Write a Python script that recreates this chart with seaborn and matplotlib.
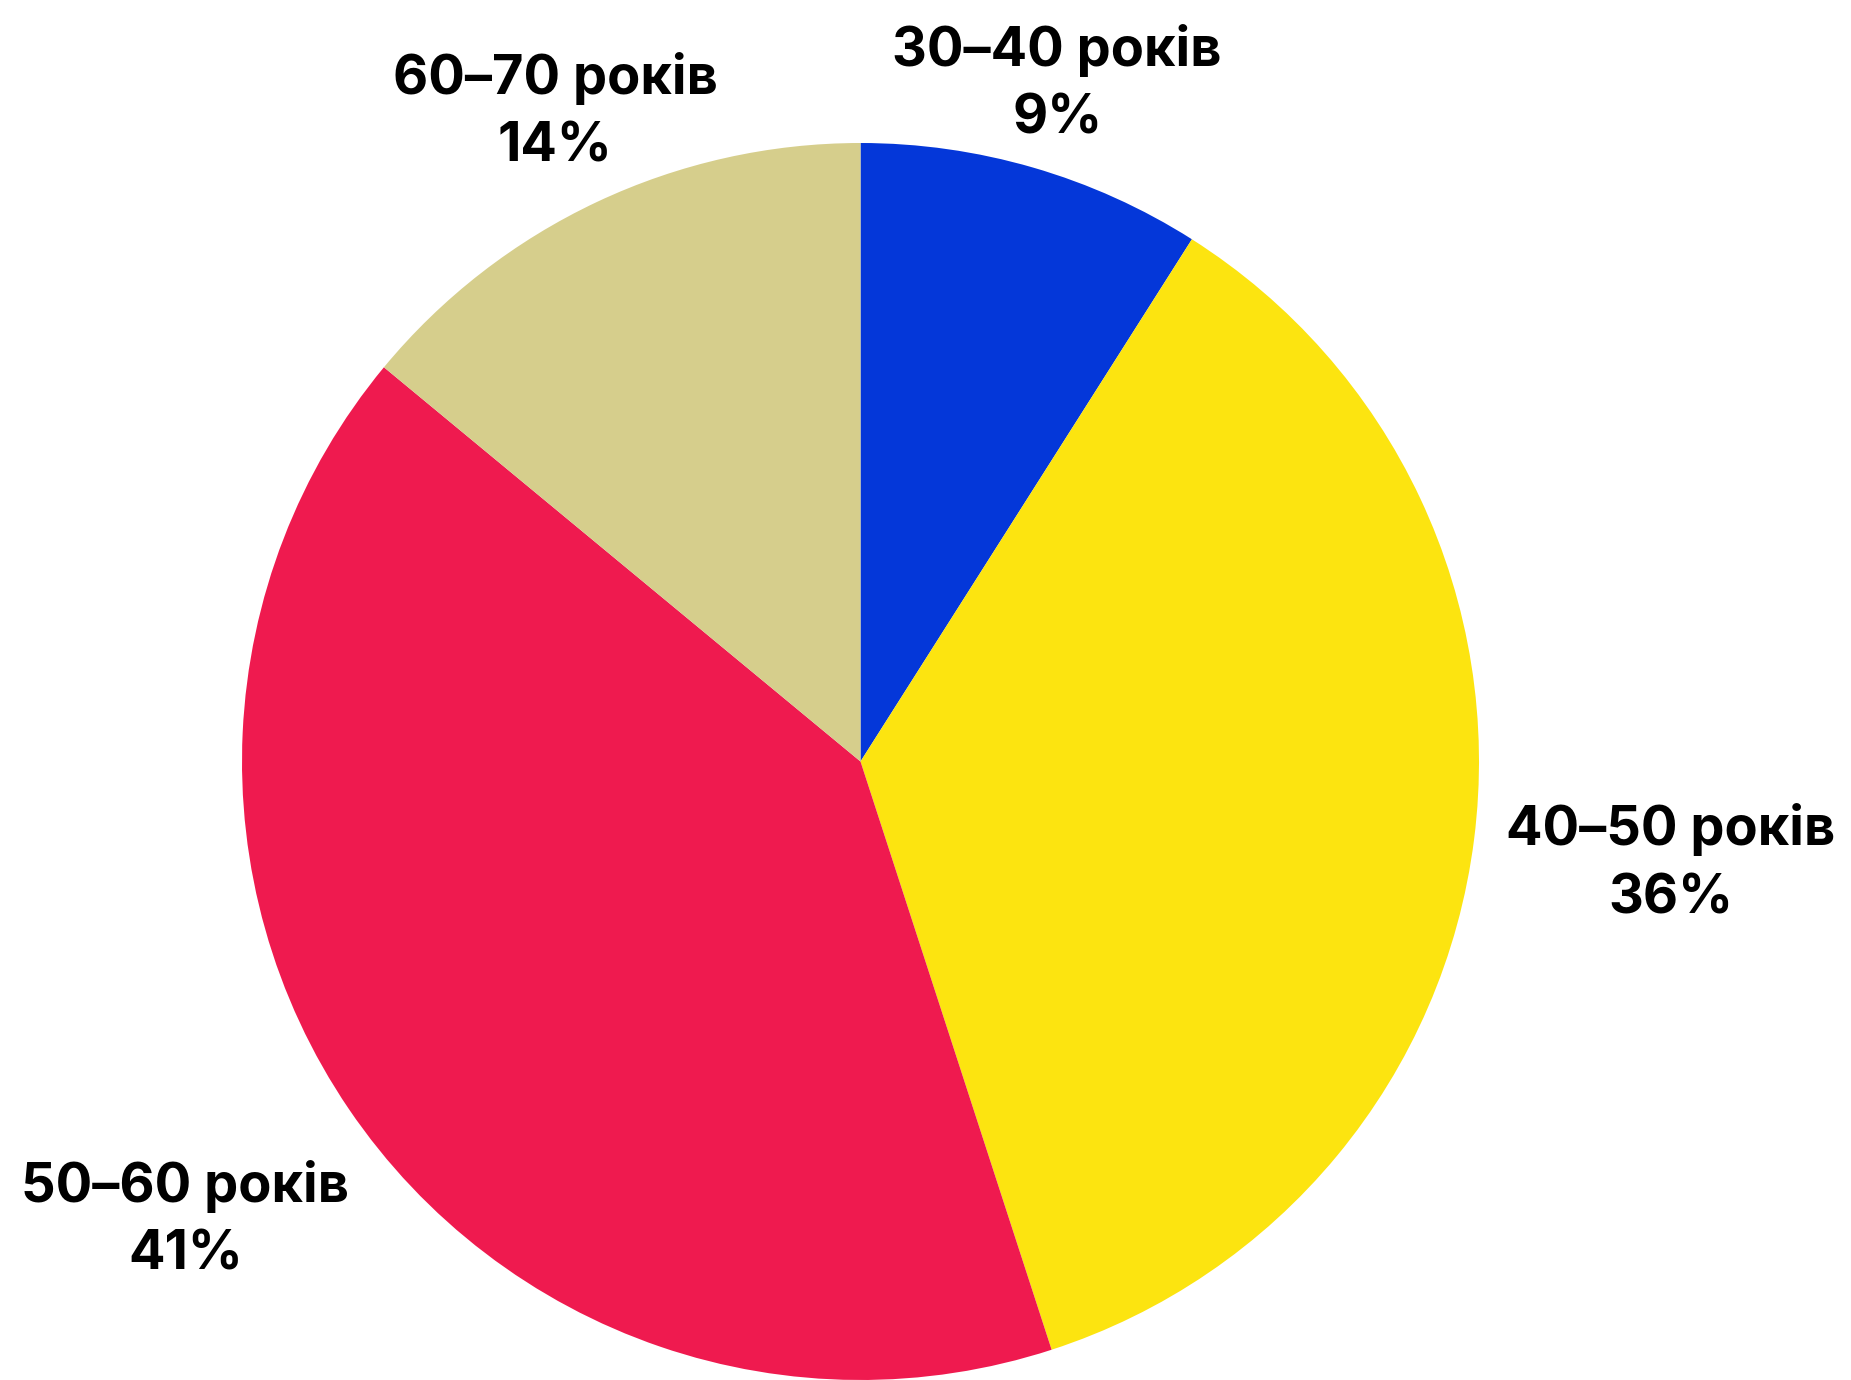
import numpy as np
import matplotlib
matplotlib.use("Agg")
import matplotlib.pyplot as plt
import seaborn as sns

# age groups and their shares (%)
age_groups = ["30–40 років", "40–50 років", "50–60 років", "60–70 років"]
shares = [9, 36, 41, 14]
colors = ["#0437d9", "#fce410", "#ef1a4f", "#d6ce8c"]
label_dist = [1.14, 1.32, 1.32, 1.16]

W, H = 1851, 1380

sns.set_theme(style="white")
plt.rcParams["font.family"] = ["Inter", "DejaVu Sans"]

fig = plt.figure(figsize=(W / 100, H / 100), dpi=100)
ax = fig.add_axes([0, 0, 1, 1])

cx, cy, r = 860.5, H - 761.5, 618.5
wedges, _ = ax.pie(shares, colors=colors, startangle=90, counterclock=False,
                   center=(cx, cy), radius=r, frame=True,
                   wedgeprops={"linewidth": 0, "edgecolor": "none"})
ax.set_xlim(0, W)
ax.set_ylim(0, H)
ax.set_aspect("equal")
ax.axis("off")

for w, name, val, d in zip(wedges, age_groups, shares, label_dist):
    mid = np.deg2rad((w.theta1 + w.theta2) / 2)
    x = cx + d * r * np.cos(mid)
    y = cy + d * r * np.sin(mid)
    ax.text(x, y, f"{name}\n{val}%", ha="center", va="center",
            fontsize=39, fontweight="bold", linespacing=1.42, color="#000000")

fig.savefig("out.png", dpi=100, facecolor="white")
plt.close(fig)
